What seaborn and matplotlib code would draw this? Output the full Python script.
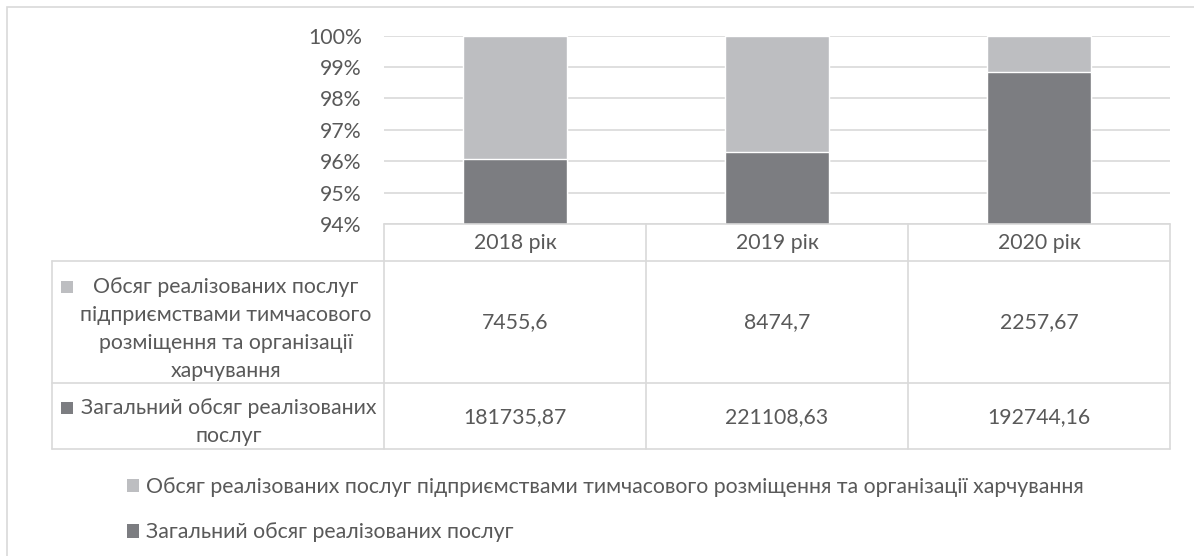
import numpy as np
import pandas as pd
import matplotlib
matplotlib.use("Agg")
import matplotlib.pyplot as plt
import matplotlib.transforms as mtrans
from matplotlib.patches import Patch, Rectangle
from matplotlib.lines import Line2D
import seaborn as sns

# ---------------- data ----------------
years = ["2018 рік", "2019 рік", "2020 рік"]
hotel_values = [7455.6, 8474.7, 2257.67]
total_values = [181735.87, 221108.63, 192744.16]
hotel_labels = ["7455,6", "8474,7", "2257,67"]
total_labels = ["181735,87", "221108,63", "192744,16"]
series_hotel = ("Обсяг реалізованих послуг підприємствами тимчасового "
                "розміщення та організації харчування")
series_total = "Загальний обсяг реалізованих послуг"
hotel_row_lines = ["Обсяг реалізованих послуг", "підприємствами тимчасового",
                   "розміщення та організації", "харчування"]
total_row_lines = ["Загальний обсяг реалізованих", "послуг"]
yticks = [94, 95, 96, 97, 98, 99, 100]

# ---------------- style ----------------
sns.set_theme(style="white")
plt.rcParams["font.family"] = ["Lato", "DejaVu Sans"]
FS = 15.3
TXT = "#595959"
GRID = "#D9D9D9"
LIGHT = "#BDBEC1"
DARK = "#7C7D81"

W, H = 1194, 556
fig = plt.figure(figsize=(W / 100, H / 100), dpi=100)
fig.patch.set_facecolor("white")

def fx(px):
    return px / W

def fy(py):
    return 1 - py / H

ax = fig.add_axes([fx(384), fy(224), fx(1170) - fx(384), fy(35.7) - fy(224)])

hv = np.array(hotel_values)
tv = np.array(total_values)
share_total = tv / (tv + hv) * 100
share_top = (tv + hv) / (tv + hv) * 100

df = pd.DataFrame({"year": years, "total": share_total, "top": share_top})
sns.barplot(data=df, x="year", y="top", color=LIGHT, saturation=1, width=0.4, ax=ax, zorder=2)
sns.barplot(data=df, x="year", y="total", color=DARK, saturation=1, width=0.4, ax=ax, zorder=3)

ax.set_xlim(-0.5, 2.5)
ax.set_ylim(94, 100)
ax.set_yticks(yticks)
ax.set_yticklabels([f"{v}%" for v in yticks], fontsize=FS, color=TXT)
ax.set_xticks([])
ax.set_xlabel("")
ax.set_ylabel("")
ax.tick_params(axis="y", length=0, pad=16)
ax.yaxis.grid(True, color=GRID, linewidth=1.2)
ax.set_axisbelow(True)
for s in ax.spines.values():
    s.set_visible(False)

# ---------------- data table ----------------
def data_to_figx(x):
    return ax.transData.transform((x, 0))[0] / W

trans = mtrans.blended_transform_factory(ax.transData, fig.transFigure)
lw = 1.2
left_tab = fx(52)
right_tab = data_to_figx(2.5)
col_left = data_to_figx(-0.5)

# horizontal lines
fig.add_artist(Line2D([col_left, right_tab], [fy(224), fy(224)], color=GRID, lw=lw))
for py in [261, 383, 449]:
    fig.add_artist(Line2D([left_tab, right_tab], [fy(py), fy(py)], color=GRID, lw=lw))
# vertical lines
for xv in [-0.5, 0.5, 1.5, 2.5]:
    fx_ = data_to_figx(xv)
    fig.add_artist(Line2D([fx_, fx_], [fy(224), fy(449)], color=GRID, lw=lw))
fig.add_artist(Line2D([left_tab, left_tab], [fy(261), fy(449)], color=GRID, lw=lw))

for i, (yr, hl, tl) in enumerate(zip(years, hotel_labels, total_labels)):
    ax.text(i, fy(243), yr, transform=trans, ha="center", va="center", fontsize=FS, color=TXT)
    ax.text(i, fy(322), hl, transform=trans, ha="center", va="center", fontsize=FS, color=TXT)
    ax.text(i, fy(417), tl, transform=trans, ha="center", va="center", fontsize=FS, color=TXT)

# row headers
hotel_ys = [287, 315, 343, 371]
for line, py in zip(hotel_row_lines, hotel_ys):
    fig.text(fx(226), fy(py), line, ha="center", va="center", fontsize=FS, color=TXT)
total_ys = [408, 436]
for line, py in zip(total_row_lines, total_ys):
    fig.text(fx(229), fy(py), line, ha="center", va="center", fontsize=FS, color=TXT)

# row markers
msz = 12
fig.add_artist(Rectangle((fx(61), fy(287 + msz / 2)), msz / W, msz / H,
                         transform=fig.transFigure, color=LIGHT, lw=0))
fig.add_artist(Rectangle((fx(61), fy(408 + msz / 2)), msz / W, msz / H,
                         transform=fig.transFigure, color=DARK, lw=0))

# ---------------- legend ----------------
handles = [Patch(facecolor=LIGHT, edgecolor="none"), Patch(facecolor=DARK, edgecolor="none")]
fig.legend(handles, [series_hotel, series_total], loc="upper left",
           bbox_to_anchor=(fx(127), fy(477)), frameon=False, fontsize=FS,
           labelcolor=TXT, handlelength=0.58, handleheight=0.58,
           handletextpad=0.33, labelspacing=1.2, borderpad=0, borderaxespad=0)

# ---------------- outer frame ----------------
fig.add_artist(Rectangle((fx(7), -0.1), 1.2, fy(7) + 0.1, transform=fig.transFigure,
                         fill=False, edgecolor=GRID, lw=1.2))

fig.savefig("out.png", dpi=100, facecolor="white")
